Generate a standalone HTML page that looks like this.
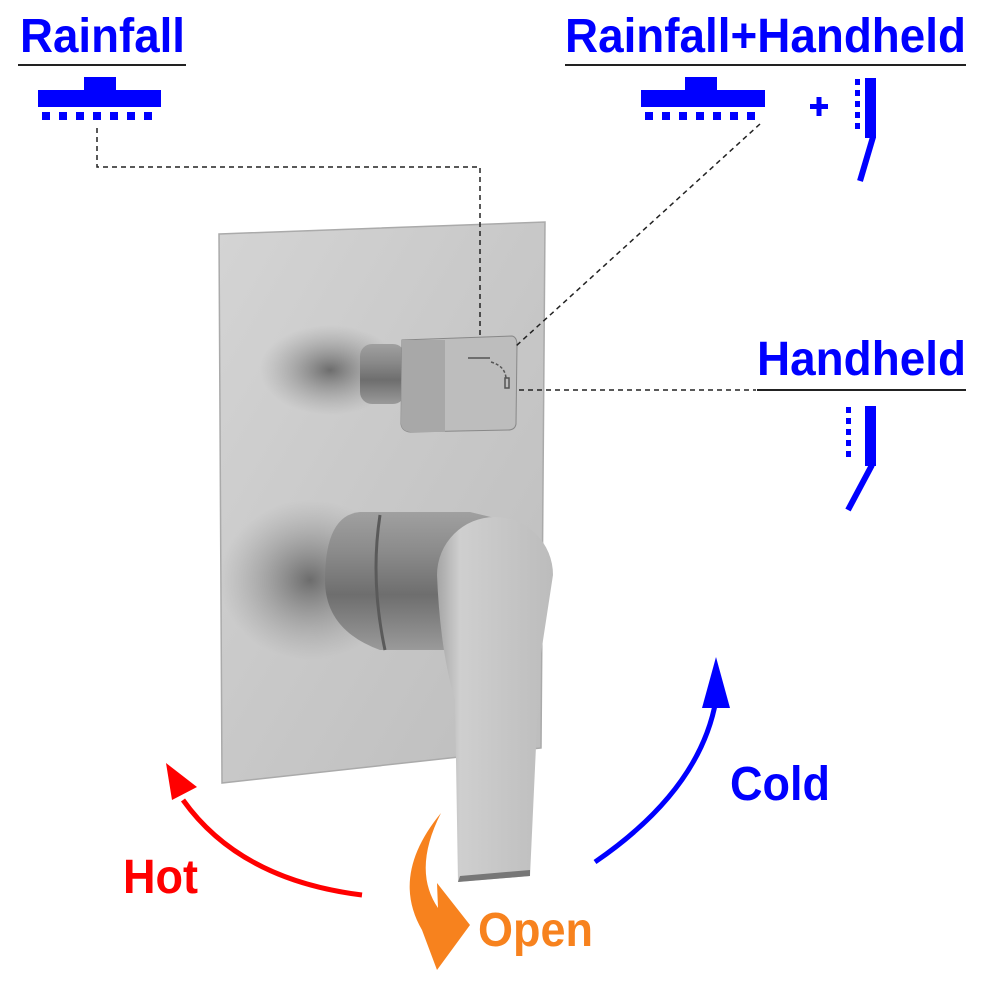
<!DOCTYPE html>
<html><head><meta charset="utf-8"><style>html,body{margin:0;padding:0;background:#fff}svg{display:block}</style></head>
<body>
<svg width="986" height="990" viewBox="0 0 986 990" xmlns="http://www.w3.org/2000/svg" font-family="Liberation Sans, sans-serif" font-weight="bold">
<defs>
<linearGradient id="plate" x1="0" y1="0" x2="1" y2="1">
<stop offset="0" stop-color="#d4d4d4"/><stop offset="0.5" stop-color="#c8c8c8"/><stop offset="1" stop-color="#bdbdbd"/></linearGradient>
<linearGradient id="cyl" x1="0" y1="0" x2="0" y2="1">
<stop offset="0" stop-color="#a0a0a0"/><stop offset="0.3" stop-color="#8a8a8a"/><stop offset="0.6" stop-color="#6e6e6e"/><stop offset="1" stop-color="#9a9a9a"/></linearGradient>
<linearGradient id="handle" x1="0" y1="0" x2="1" y2="0">
<stop offset="0" stop-color="#a5a5a5"/><stop offset="0.2" stop-color="#cfcfcf"/><stop offset="1" stop-color="#bcbcbc"/></linearGradient>
<radialGradient id="shadow" cx="0.5" cy="0.5" r="0.5"><stop offset="0" stop-color="#555" stop-opacity="0.8"/><stop offset="1" stop-color="#888" stop-opacity="0"/></radialGradient>
</defs>
<!-- labels -->
<g fill="#0000ff" font-size="48">
<text x="20" y="52" textLength="165" lengthAdjust="spacingAndGlyphs">Rainfall</text>
<text x="565" y="52" textLength="401" lengthAdjust="spacingAndGlyphs">Rainfall+Handheld</text>
<text x="757" y="375" textLength="209" lengthAdjust="spacingAndGlyphs">Handheld</text>
<text x="730" y="800" textLength="100" lengthAdjust="spacingAndGlyphs">Cold</text>
</g>
<g stroke="#222" stroke-width="2"><line x1="18" y1="65" x2="186" y2="65"/><line x1="565" y1="65" x2="966" y2="65"/><line x1="757" y1="390" x2="966" y2="390"/></g>
<!-- icons -->
<g fill="#0000ff">
<rect x="84" y="77" width="32" height="14"/><rect x="38" y="90" width="123" height="17"/>
<rect x="685" y="77" width="32" height="14"/><rect x="641" y="90" width="124" height="17"/>
<rect x="810" y="104" width="18" height="5"/><rect x="816.5" y="97" width="5" height="19"/>
<rect x="865" y="78" width="11" height="60"/>
<rect x="865" y="406" width="11" height="60"/>
</g>
<g fill="#0000ff">
<g id="dots"><rect x="42" y="112" width="8" height="8"/><rect x="59" y="112" width="8" height="8"/><rect x="76" y="112" width="8" height="8"/><rect x="93" y="112" width="8" height="8"/><rect x="110" y="112" width="8" height="8"/><rect x="127" y="112" width="8" height="8"/><rect x="144" y="112" width="8" height="8"/></g>
<use href="#dots" x="603"/>
<g id="vd"><rect x="855" y="79" width="5" height="6"/><rect x="855" y="90" width="5" height="6"/><rect x="855" y="101" width="5" height="6"/><rect x="855" y="112" width="5" height="6"/><rect x="855" y="123" width="5" height="6"/></g>
<use href="#vd" x="-9" y="328"/>
</g>
<g stroke="#0000ff" stroke-width="6" fill="none"><line x1="873" y1="137" x2="860" y2="181"/><line x1="872" y1="465" x2="848" y2="510"/></g>
<!-- plate -->
<polygon points="219,234 545,222 541,748 222,783" fill="url(#plate)" stroke="#aaa" stroke-width="1.5"/>
<ellipse cx="330" cy="370" rx="70" ry="45" fill="url(#shadow)"/>
<ellipse cx="310" cy="580" rx="90" ry="80" fill="url(#shadow)"/>
<!-- diverter -->
<rect x="360" y="344" width="45" height="60" rx="12" fill="url(#cyl)"/>
<path d="M402 340 L512 336 Q517 337 517 345 L516 424 Q515 430 508 430 L410 432 Q402 431 401 424 Z" fill="#bdbdbd" stroke="#888"/>
<path d="M402 340 L445 340 L445 432 L410 432 Q402 431 401 424 Z" fill="#a8a8a8"/>
<g stroke="#555" stroke-width="1.5" fill="none"><path d="M468 358 h22"/><path d="M491 362 q14 4 15 16" stroke-dasharray="3,2"/><rect x="505" y="378" width="4" height="10"/></g>
<!-- lever -->
<path d="M360 512 L470 512 L495 518 L495 650 L380 650 Q325 630 325 580 Q325 515 360 512 Z" fill="url(#cyl)"/>
<path d="M380 515 Q370 580 385 650" stroke="#5a5a5a" stroke-width="3" fill="none"/>
<path d="M437 575 A58 58 0 0 1 553 575 L540 660 L530 876 L458 882 L455 700 Q440 650 437 575 Z" fill="url(#handle)"/>
<path d="M458 882 L530 876 L530 870 L460 876 Z" fill="#777"/>
<!-- dashed connectors -->
<g stroke="#222" stroke-width="1.5" fill="none" stroke-dasharray="5,4">
<path d="M97 128 V167 H480 V338"/>
<path d="M760 124 L516 346"/>
<path d="M519 390 H756"/>
</g>
<!-- arrows -->
<path d="M362 895 Q240 880 183 800" stroke="#ff0000" stroke-width="5" fill="none"/>
<polygon points="166,763 197,787 172,800" fill="#ff0000"/>
<text x="123" y="893" font-size="48" fill="#ff0000" textLength="75" lengthAdjust="spacingAndGlyphs">Hot</text>
<path d="M595 862 Q700 790 716 700" stroke="#0000ff" stroke-width="5" fill="none"/>
<polygon points="716,657 702,708 730,708" fill="#0000ff"/>
<path d="M441 813 Q390 875 422 930 L437 970 L470 925 L437 883 L438 908 Q412 870 441 813 Z" fill="#f7821e"/>
<text x="478" y="946" font-size="48" fill="#f7821e" textLength="115" lengthAdjust="spacingAndGlyphs">Open</text>
</svg>
</body></html>
